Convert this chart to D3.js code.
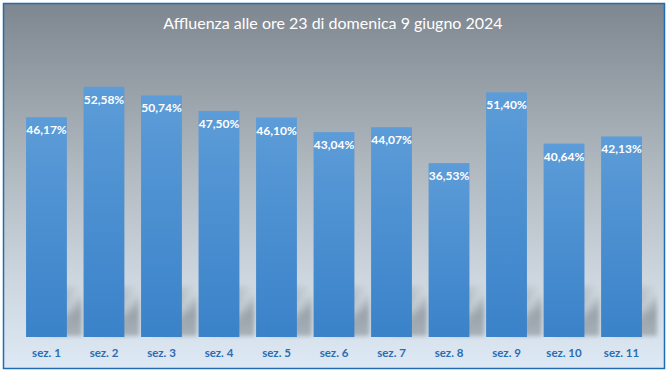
<!DOCTYPE html>
<html>
<script src='https://d3js.org/d3.v7.min.js'></script>
<style>
body {margin: 0; background: #fff;}
text {font-family: Lato, 'Open Sans', sans-serif;}
</style>
<body onload='init()'>
<script>
var sezioni = ['sez. 1','sez. 2','sez. 3','sez. 4','sez. 5','sez. 6','sez. 7','sez. 8','sez. 9','sez. 10','sez. 11'];
var affluenza = [46.17, 52.58, 50.74, 47.50, 46.10, 43.04, 44.07, 36.53, 51.40, 40.64, 42.13];
var titolo = 'Affluenza alle ore 23 di domenica 9 giugno 2024';

function init() {
var W = 669, H = 374;
var svg = d3.select('body').append('svg').attr('width', W).attr('height', H);
var defs = svg.append('defs');

var bg = defs.append('linearGradient').attr('id','bg').attr('x1',0).attr('y1',0).attr('x2',0).attr('y2',1);
bg.append('stop').attr('offset','0%').attr('stop-color','#7e868f');
bg.append('stop').attr('offset','45%').attr('stop-color','#b0b8c0');
bg.append('stop').attr('offset','75%').attr('stop-color','#cdd6de');
bg.append('stop').attr('offset','100%').attr('stop-color','#dde9f5');

var bar = defs.append('linearGradient').attr('id','bar').attr('x1',0).attr('y1',0).attr('x2',0).attr('y2',1);
bar.append('stop').attr('offset','0%').attr('stop-color','#5c9cd8');
bar.append('stop').attr('offset','100%').attr('stop-color','#3a82c9');

// ombra dietro le barre
var sh = defs.append('linearGradient').attr('id','sh').attr('x1',0).attr('y1',0).attr('x2',0).attr('y2',1);
sh.append('stop').attr('offset','0%').attr('stop-color','#98a1a8').attr('stop-opacity',0.15);
sh.append('stop').attr('offset','30%').attr('stop-color','#98a1a8').attr('stop-opacity',0.7);
sh.append('stop').attr('offset','60%').attr('stop-color','#98a1a8').attr('stop-opacity',0.95);
sh.append('stop').attr('offset','100%').attr('stop-color','#98a1a8').attr('stop-opacity',0.75);

// riflesso chiaro diagonale
var hl = defs.append('linearGradient').attr('id','hl').attr('x1',0).attr('y1',0).attr('x2',1).attr('y2',1);
hl.append('stop').attr('offset','40%').attr('stop-color','#dfe6ec').attr('stop-opacity',0);
hl.append('stop').attr('offset','55%').attr('stop-color','#dfe6ec').attr('stop-opacity',0.55);
hl.append('stop').attr('offset','70%').attr('stop-color','#dfe6ec').attr('stop-opacity',0);

defs.append('filter').attr('id','blur').attr('x','-20%').attr('y','-20%').attr('width','140%').attr('height','140%')
  .append('feGaussianBlur').attr('stdDeviation', 2);

svg.append('rect').attr('x',3.5).attr('y',3.5).attr('width',661).attr('height',365)
  .attr('fill','url(#bg)').attr('stroke','#1f6db3').attr('stroke-width',1.5);

var x = d3.scaleBand().domain(sezioni).range([18, 650]).paddingInner(0.29).paddingOuter(0.14);
var y = d3.scaleLinear().domain([0, 60]).range([337, 51.4]);
var data = sezioni.map(function(s, i){ return {s: s, v: affluenza[i]}; });

var ombre = svg.append('g').attr('filter','url(#blur)');
ombre.selectAll('rect.o').data(data).enter().append('rect').attr('class','o')
  .attr('x', function(d){ return x(d.s) + 12; })
  .attr('y', y(0) - 52)
  .attr('width', x.bandwidth() + 3)
  .attr('height', 51)
  .attr('fill','url(#sh)');
ombre.selectAll('rect.h').data(data).enter().append('rect').attr('class','h')
  .attr('x', function(d){ return x(d.s) + 12; })
  .attr('y', y(0) - 52)
  .attr('width', x.bandwidth() + 3)
  .attr('height', 51)
  .attr('fill','url(#hl)');

svg.append('g').selectAll('rect').data(data).enter().append('rect')
  .attr('x', function(d){ return x(d.s); })
  .attr('y', function(d){ return y(d.v); })
  .attr('width', x.bandwidth())
  .attr('height', function(d){ return y(0) - y(d.v); })
  .attr('fill','url(#bar)');

svg.append('g').selectAll('text').data(data).enter().append('text')
  .attr('x', function(d){ return x(d.s) + x.bandwidth()/2; })
  .attr('y', function(d){ return y(d.v) + 17; })
  .attr('text-anchor','middle')
  .attr('fill','#fff').attr('font-weight','bold').attr('font-size','12px')
  .text(function(d){ return d.v.toFixed(2).replace('.', ',') + '%'; });

var ax = svg.append('g').attr('transform','translate(0,337)')
  .call(d3.axisBottom(x).tickSize(0).tickPadding(12));
ax.select('.domain').remove();
ax.selectAll('text').attr('fill','#2a6db3').attr('font-weight','bold').attr('font-size','11.5px')
  .style('font-family','Lato, sans-serif');

svg.append('text').attr('x', 333).attr('y', 29).attr('text-anchor','middle')
  .attr('fill','#fff').attr('font-size','16px').text(titolo);
}
</script>
</body>
</html>
